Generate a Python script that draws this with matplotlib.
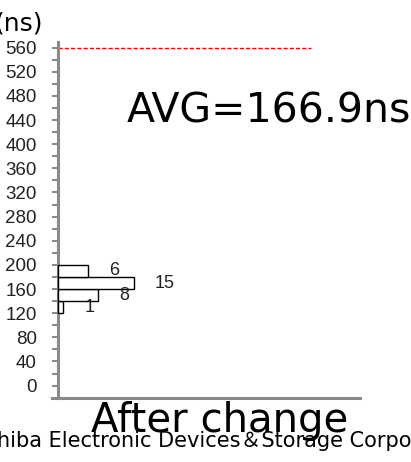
import matplotlib
matplotlib.use("Agg")
import matplotlib.pyplot as plt
import numpy as np

# Data
bin_starts = [120, 140, 160, 180]
counts = [1, 8, 15, 6]
bin_width = 20
limit_value = 560
avg_text = "AVG=166.9ns"
unit_label = "(ns)"
title_text = "After change"
footer_text = "Toshiba Electronic Devices\uff06Storage Corporation"

fig = plt.figure(figsize=(4.11, 4.62), dpi=100)
W, H = 411, 462
ax = fig.add_axes([52 / W, 1 - 397.7 / H, (360 - 52) / W, (397.7 - 41.6) / H])

gray = "#8a8a8a"
centers = [b + bin_width / 2 for b in bin_starts]
ax.barh(centers, counts, height=bin_width, left=0, color="white",
        edgecolor="black", linewidth=1.0, zorder=3)

for c, n in zip(centers, counts):
    ax.text(n + 4.2, c, str(n), ha="left", va="center",
            fontsize=13, family="Liberation Sans", color="#222222", zorder=4)

ax.set_xlim(-1.2, 60)
ax.set_ylim(-20, 570)

ax.axhline(limit_value, xmin=1.2 / 61.2, xmax=(311 - 52) / (360 - 52),
           color="red", linewidth=1.0, linestyle=(0, (3, 1.5)), zorder=2)

for s in ["top", "right"]:
    ax.spines[s].set_visible(False)
ax.spines["left"].set_position(("data", 0))
ax.spines["left"].set_color(gray)
ax.spines["left"].set_linewidth(2.2)
ax.spines["bottom"].set_color(gray)
ax.spines["bottom"].set_linewidth(2.2)

ax.set_xticks([])
ax.set_yticks(np.arange(0, 561, 40))
ax.set_yticks(np.arange(0, 561, 20), minor=True)
ax.tick_params(axis="y", which="both", direction="out", length=4.3, width=1.5,
               color=gray, pad=11)
for lab in ax.get_yticklabels():
    lab.set_family("Liberation Sans")
    lab.set_fontsize(13.5)
    lab.set_color("#222222")

fig.text(43 / W, 1 - 31 / H, unit_label, ha="right", va="baseline",
         fontsize=18, family="DejaVu Sans")
fig.text(127 / W, 1 - 122.5 / H, avg_text, ha="left", va="baseline",
         fontsize=29.5, family="DejaVu Sans")
fig.text(220 / W, 1 - 432 / H, title_text, ha="center", va="baseline",
         fontsize=29, family="DejaVu Sans")
fig.text(-36 / W, 1 - 447 / H, footer_text, ha="left", va="baseline",
         fontsize=15, family=["DejaVu Sans", "Noto Sans CJK JP"])

fig.savefig("out.png", dpi=100)
